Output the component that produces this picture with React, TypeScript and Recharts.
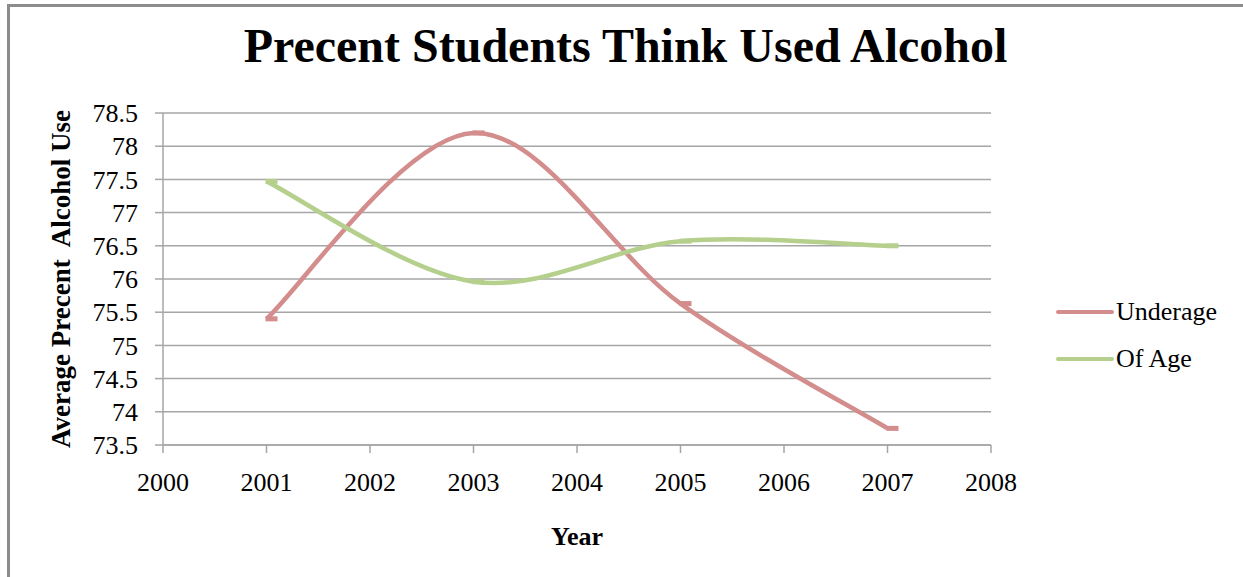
import React from "react";
import { CartesianGrid, Legend, Line, LineChart, XAxis, YAxis } from "recharts";

const years = [2001, 2003, 2005, 2007];
const underage = [75.4, 78.2, 75.63, 73.75];
const ofAge = [77.47, 75.96, 76.57, 76.5];
const yearTicks = [2000, 2001, 2002, 2003, 2004, 2005, 2006, 2007, 2008];
const valueTicks = [73.5, 74, 74.5, 75, 75.5, 76, 76.5, 77, 77.5, 78, 78.5];

const data = years.map((year, i) => ({ year, underage: underage[i], ofAge: ofAge[i] }));

const RED = "#D38D8C";
const GREEN = "#B5CF8C";
const SERIF = '"Liberation Serif", "Times New Roman", serif';

// Office-style smoothed line: cubic segments with Catmull-Rom tangents
const smoothCurve = (context: any) => {
  let pts: number[][] = [];
  return {
    areaStart() {},
    areaEnd() {},
    lineStart() {
      pts = [];
    },
    lineEnd() {
      if (!pts.length) return;
      context.moveTo(pts[0][0], pts[0][1]);
      for (let i = 0; i < pts.length - 1; i++) {
        const p0 = pts[Math.max(i - 1, 0)];
        const p1 = pts[i];
        const p2 = pts[i + 1];
        const p3 = pts[Math.min(i + 2, pts.length - 1)];
        context.bezierCurveTo(
          p1[0] + (p2[0] - p0[0]) / 6,
          p1[1] + (p2[1] - p0[1]) / 6,
          p2[0] - (p3[0] - p1[0]) / 6,
          p2[1] - (p3[1] - p1[1]) / 6,
          p2[0],
          p2[1]
        );
      }
    },
    point(x: number, y: number) {
      pts.push([+x, +y]);
    },
  };
};

const dashMarker = (color: string) => (props: any) => {
  const { cx, cy, index } = props;
  if (cx == null || cy == null) return <g key={index} />;
  return <rect key={index} x={cx - 1} y={cy - 2.5} width={12} height={5} fill={color} />;
};

const renderLegend = () => {
  const items = [
    { label: "Underage", color: RED },
    { label: "Of Age", color: GREEN },
  ];
  return (
    <div style={{ fontFamily: SERIF, fontSize: 26, color: "#000" }}>
      {items.map((it) => (
        <div key={it.label} style={{ display: "flex", alignItems: "center", height: 47 }}>
          <svg width={59} height={6} style={{ marginRight: 1 }}>
            <line x1={2} y1={3} x2={56} y2={3} stroke={it.color} strokeWidth={4} strokeLinecap="round" />
          </svg>
          <span>{it.label}</span>
        </div>
      ))}
    </div>
  );
};

export default function App() {
  return (
    <div
      style={{
        position: "absolute",
        left: 0,
        top: 0,
        width: 1243,
        height: 577,
        background: "#fff",
        overflow: "hidden",
      }}
    >
      <div
        style={{
          position: "absolute",
          left: 7,
          top: 4,
          width: 1260,
          height: 600,
          borderLeft: "3px solid #8c8c8c",
          borderTop: "3px solid #8c8c8c",
          boxSizing: "border-box",
        }}
      />
      <div
        style={{
          position: "absolute",
          left: 0,
          width: 1251,
          top: 18,
          textAlign: "center",
          fontFamily: SERIF,
          fontWeight: "bold",
          fontSize: 48,
          lineHeight: "normal",
          color: "#000",
        }}
      >
        Precent Students Think Used Alcohol
      </div>
      <LineChart width={1243} height={577} data={data} margin={{ top: 113, right: 72, bottom: 0, left: 0 }}>
        <CartesianGrid vertical={false} stroke="#a6a6a6" strokeWidth={1.5} />
        <XAxis
          dataKey="year"
          type="number"
          domain={[2000, 2008]}
          ticks={yearTicks}
          interval={0}
          height={132}
          stroke="#a6a6a6"
          strokeWidth={1.5}
          tickSize={8}
          tickMargin={20}
          tick={{ fill: "#000", fontSize: 26, fontFamily: SERIF }}
          label={{
            content: (props: any) => {
              const vb = props.viewBox;
              return (
                <text
                  x={vb.x + vb.width / 2}
                  y={545}
                  textAnchor="middle"
                  fontFamily={SERIF}
                  fontWeight="bold"
                  fontSize={26}
                  fill="#000"
                >
                  Year
                </text>
              );
            },
          }}
        />
        <YAxis
          type="number"
          domain={[73.5, 78.5]}
          ticks={valueTicks}
          interval={0}
          width={163}
          stroke="#a6a6a6"
          strokeWidth={1.5}
          tickSize={8}
          tickMargin={17}
          tick={{ fill: "#000", fontSize: 26, fontFamily: SERIF }}
          label={{
            content: (props: any) => {
              const vb = props.viewBox;
              const cx = 70;
              const cy = vb.y + vb.height / 2;
              return (
                <text
                  x={cx}
                  y={cy}
                  transform={`rotate(-90, ${cx}, ${cy})`}
                  textAnchor="middle"
                  fontFamily={SERIF}
                  fontWeight="bold"
                  fontSize={27}
                  fill="#000"
                  style={{ whiteSpace: "pre" }}
                >
                  Average Precent  Alcohol Use
                </text>
              );
            },
          }}
        />
        <Legend
          layout="vertical"
          align="right"
          verticalAlign="middle"
          content={renderLegend}
          wrapperStyle={{ position: "absolute", left: 1056, top: 288, width: 180 }}
        />
        <Line
          dataKey="underage"
          name="Underage"
          type={smoothCurve as any}
          stroke={RED}
          strokeWidth={4.5}
          dot={dashMarker(RED)}
          activeDot={false}
          isAnimationActive={false}
        />
        <Line
          dataKey="ofAge"
          name="Of Age"
          type={smoothCurve as any}
          stroke={GREEN}
          strokeWidth={4.5}
          dot={dashMarker(GREEN)}
          activeDot={false}
          isAnimationActive={false}
        />
      </LineChart>
    </div>
  );
}
